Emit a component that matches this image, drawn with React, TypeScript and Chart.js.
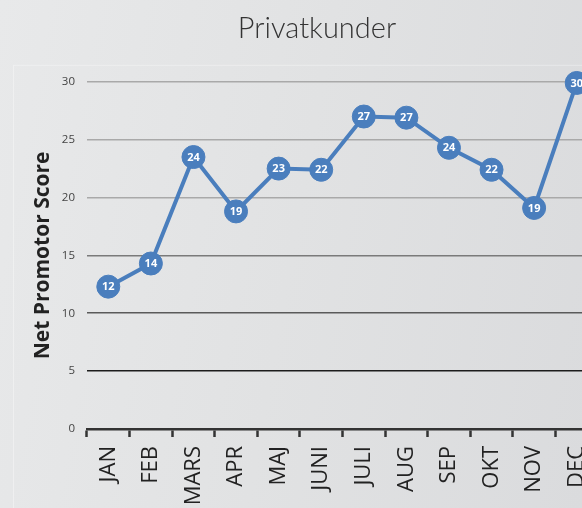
import React, { useEffect, useRef } from "react";
import { Chart, registerables } from "chart.js";

Chart.register(...registerables);

const chartTitle = "Privatkunder";
const yAxisTitle = "Net Promotor Score";
const months = ["JAN", "FEB", "MARS", "APR", "MAJ", "JUNI", "JULI", "AUG", "SEP", "OKT", "NOV", "DEC"];
const npsValues = [12.3, 14.3, 23.5, 18.8, 22.5, 22.4, 27.0, 26.9, 24.3, 22.4, 19.1, 29.9];
const yMin = 0;
const yMax = 30;
const yStep = 5;

const lineBlue = "#4a7ebd";

const gridColorFor = (v: number) => {
  if (v === 0) return "rgba(0,0,0,0)";
  if (v === 5) return "#1c1c1c";
  if (v === 10) return "#5a5a5a";
  if (v === 15) return "#7a7a7a";
  return "#a9a9a9";
};

const valueLabelPlugin = {
  id: "valueLabels",
  afterDatasetsDraw(chart: any) {
    const { ctx } = chart;
    const meta = chart.getDatasetMeta(0);
    const data = chart.data.datasets[0].data as number[];
    ctx.save();
    ctx.fillStyle = "#ffffff";
    ctx.font = "bold 11px 'Open Sans'";
    ctx.textAlign = "center";
    ctx.textBaseline = "middle";
    meta.data.forEach((pt: any, i: number) => {
      ctx.fillText(String(Math.round(data[i])), pt.x, pt.y + 0.5);
    });
    ctx.restore();
  },
};

const panelPlugin = {
  id: "panel",
  beforeDraw(chart: any) {
    const { ctx, chartArea } = chart;
    ctx.save();
    ctx.strokeStyle = "rgba(255,255,255,0.35)";
    ctx.lineWidth = 1;
    ctx.strokeRect(chartArea.left - 73.5, chartArea.top - 16.5, 1000, 1000);
    ctx.restore();
  },
};

export default function App() {
  const canvasRef = useRef<HTMLCanvasElement | null>(null);

  useEffect(() => {
    document.body.style.margin = "0";
    const canvas = canvasRef.current;
    if (!canvas) return;
    const chart = new Chart(canvas, {
      type: "line",
      data: {
        labels: months,
        datasets: [
          {
            data: npsValues,
            borderColor: lineBlue,
            backgroundColor: lineBlue,
            borderWidth: 4,
            pointRadius: 11.5,
            pointHoverRadius: 11.5,
            pointBackgroundColor: lineBlue,
            pointBorderColor: lineBlue,
            pointBorderWidth: 1,
            tension: 0,
            clip: false as any,
          },
        ],
      },
      options: {
        animation: false,
        responsive: false,
        maintainAspectRatio: false,
        layout: { padding: { left: 36, right: 36, top: 0, bottom: 0 } },
        plugins: {
          legend: { display: false },
          tooltip: { enabled: false },
          title: {
            display: true,
            text: chartTitle,
            color: "#333333",
            font: { family: "Lato", size: 29, weight: "300" as any },
            padding: { top: 11, bottom: 36 },
          },
        },
        scales: {
          x: {
            type: "category",
            offset: true,
            grid: {
              offset: true,
              drawOnChartArea: false,
              drawTicks: true,
              tickLength: 8,
              tickWidth: 2.5,
              tickColor: "#333333",
            },
            border: { display: true, color: "#333333", width: 2.5 },
            ticks: {
              minRotation: 90,
              maxRotation: 90,
              autoSkip: false,
              color: "#222222",
              padding: 9,
              font: { family: "Open Sans", size: 22 },
            },
            afterFit(scale: any) {
              scale.height = 79;
            },
          },
          y: {
            min: yMin,
            max: yMax,
            ticks: {
              stepSize: yStep,
              color: "#444444",
              padding: 12,
              font: { family: "Open Sans", size: 11.5 },
            },
            grid: {
              drawTicks: false,
              lineWidth: 1.6,
              color: (ctx: any) => gridColorFor(ctx.tick ? ctx.tick.value : -1),
            },
            border: { display: false },
            title: {
              display: true,
              text: yAxisTitle,
              color: "#222222",
              font: { family: "Open Sans", size: 21, weight: "bold" as any, lineHeight: 0.6 },
              padding: { top: 0.7, bottom: 0 },
            },
            afterFit(scale: any) {
              scale.width = 51;
            },
          },
        },
      },
      plugins: [panelPlugin, valueLabelPlugin],
    });
    return () => chart.destroy();
  }, []);

  return (
    <div
      style={{
        width: 582,
        height: 508,
        overflow: "hidden",
        position: "relative",
        background: "linear-gradient(100deg, #e8e9ea 0%, #e1e2e3 50%, #dadbdd 100%)",
      }}
    >
      <canvas ref={canvasRef} width={634} height={508} style={{ display: "block" }} />
    </div>
  );
}
